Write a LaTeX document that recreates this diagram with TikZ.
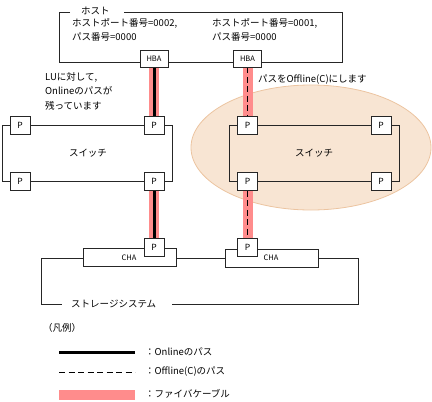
\documentclass[tikz,border=0pt]{standalone}
\usepackage{fontspec}
\setmainfont{Noto Sans CJK JP}
\definecolor{ellfill}{RGB}{248,229,211}
\definecolor{elldraw}{RGB}{236,196,160}
\definecolor{cablepink}{RGB}{255,140,140}
\begin{document}
\begin{tikzpicture}[x=1pt,y=-1pt,
  box/.style={draw=black!85,line width=0.8pt},
  pbox/.style={draw=black!85,line width=0.8pt,fill=white,minimum width=20pt,minimum height=18pt,inner sep=0pt,font=\fontsize{8.5}{9}\selectfont},
  hbabox/.style={draw=black!85,line width=0.8pt,fill=white,minimum width=28pt,minimum height=17pt,inner sep=0pt,font=\fontsize{7.5}{8}\selectfont},
  chabox/.style={draw=black!85,line width=0.8pt,fill=white,minimum width=93pt,minimum height=18pt,inner sep=0pt},
  lbl/.style={font=\fontsize{9.5}{14.5}\selectfont,inner sep=0pt,anchor=west},
  cable/.style={draw=cablepink,line width=10pt},
  online/.style={draw=black,line width=3pt},
  offline/.style={draw=black,line width=1pt,dash pattern=on 6pt off 3.5pt}
]
\useasboundingbox (0,0) rectangle (432,402);
% ellipse
\filldraw[fill=ellfill,draw=elldraw,line width=0.8pt] (311,147.5) ellipse [x radius=120, y radius=62.5];

% host
\draw[box] (70,12) -- (59,12) -- (59,62) -- (342,62) -- (342,12) -- (124,12);
\node[lbl] (hosttitle) at (81,11) {ホスト};
\node[lbl] (h1a) at (72,23) {ホストポート番号=0002,};
\node[lbl] (h1b) at (72,37) {パス番号=0000};
\node[lbl] (h2a) at (212,23) {ホストポート番号=0001,};
\node[lbl] (h2b) at (212,37) {パス番号=0000};

% switches
\draw[box] (2,125) rectangle (172,181);
\draw[box] (229,125) rectangle (399,181);
\node (sw1) at (88,153) [lbl,anchor=center] {スイッチ};
\node (sw2) at (314,153) [lbl,anchor=center] {スイッチ};

% storage
\draw[box] (83,258) -- (41,258) -- (41,304) -- (62,304);
\draw[box] (172,304) -- (358,304) -- (358,258) -- (318,258);
\draw[box] (176,258) -- (225,258);
\node[lbl] (stor) at (71,304) {ストレージシステム};

% node positions
\node[hbabox] (hba1) at (154,58.5) {HBA};
\node[hbabox] (hba2) at (247.5,58.5) {HBA};
\node[pbox] (s1p1) at (20,125) {P};
\node[pbox] (s1p2) at (154,125) {P};
\node[pbox] (s1p3) at (20,181.5) {P};
\node[pbox] (s1p4) at (154,181.5) {P};
\node[pbox] (s2p1) at (247.5,125) {P};
\node[pbox] (s2p2) at (381,125) {P};
\node[pbox] (s2p3) at (247.5,181.5) {P};
\node[pbox] (s2p4) at (381,181.5) {P};
\node[chabox] (cha1) at (129.5,257) {};
\node[chabox] (cha2) at (271.5,258) {};
\node[font=\fontsize{7.5}{8}\selectfont,inner sep=0pt] (cha1t) at (129,257.5) {CHA};
\node[font=\fontsize{7.5}{8}\selectfont,inner sep=0pt] (cha2t) at (271,258) {CHA};
\node[pbox] (c1p) at (154,247.5) {P};
\node[pbox] (c2p) at (247.5,247.5) {P};

% cables
\path[cable] (hba1.south) -- (s1p2.north);
\path[cable] (s1p4.south) -- (c1p.north);
\path[cable] (hba2.south) -- (s2p1.north);
\path[cable] (s2p3.south) -- (c2p.north);
\draw[online] (hba1.south) -- (s1p2.north);
\draw[online] (s1p4.south) -- (c1p.north);
\draw[offline] (hba2.south) -- (s2p1.north);
\draw[offline] (s2p3.south) -- (c2p.north);
% redraw boxes on top
\node[hbabox] at (hba1) {HBA};
\node[hbabox] at (hba2) {HBA};
\node[pbox] at (s1p2) {P};
\node[pbox] at (s1p4) {P};
\node[pbox] at (s2p1) {P};
\node[pbox] at (s2p3) {P};
\node[pbox] at (c1p) {P};
\node[pbox] at (c2p) {P};

% labels
\node[lbl,align=left,anchor=north west] (lu) at (45,72) {LUに対して,\\Onlineのパスが\\残っています};
\node[lbl] (off) at (258,80) {パスをOffline(C)にします};

% legend
\node[lbl] (hanrei) at (43,328) {（凡例）};
\coordinate (l1a) at (59,352); \coordinate (l1b) at (135,352);
\coordinate (l2a) at (59,372); \coordinate (l2b) at (135,372);
\coordinate (l3a) at (59,395); \coordinate (l3b) at (135,395);
\draw[online] (l1a) -- (l1b);
\draw[offline] (l2a) -- (l2b);
\path[cable] (l3a) -- (l3b);
\node[lbl] (t1) at (145,352) {：Onlineのパス};
\node[lbl] (t2) at (145,372) {：Offline(C)のパス};
\node[lbl] (t3) at (145,394) {：ファイバケーブル};
\end{tikzpicture}
\end{document}
